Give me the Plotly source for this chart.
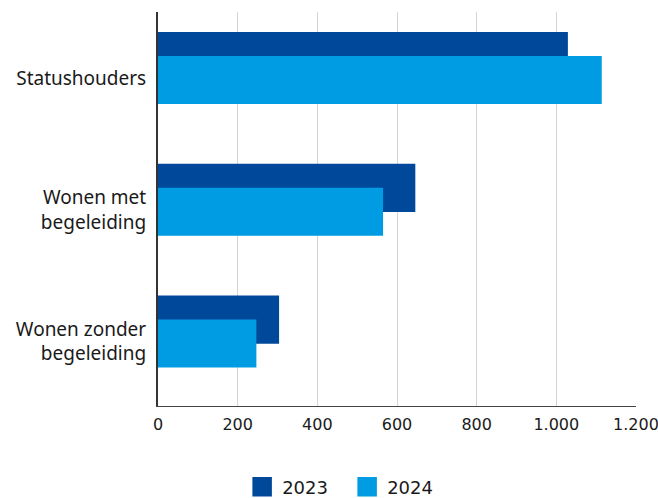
import plotly.graph_objects as go

categories = ["Statushouders", "Wonen met<br>begeleiding", "Wonen zonder<br>begeleiding"]
values_2023 = [1029, 646, 304]
values_2024 = [1114, 565, 247]
series_names = ["2023", "2024"]
colors = ["#00489A", "#009CE3"]
x_ticks = [0, 200, 400, 600, 800, 1000, 1200]

fig = go.Figure()
fig.add_trace(go.Bar(y=categories, x=values_2023, name=series_names[0], orientation="h",
                     marker=dict(color=colors[0], line=dict(width=0)),
                     width=0.365, offset=-0.348, showlegend=False))
fig.add_trace(go.Bar(y=categories, x=values_2024, name=series_names[1], orientation="h",
                     marker=dict(color=colors[1], line=dict(width=0)),
                     width=0.365, offset=-0.167, showlegend=False))
# legend entries with larger square swatches
for name, col in zip(series_names, colors):
    fig.add_trace(go.Scatter(x=[None], y=[None], mode="markers", name=name,
                             marker=dict(symbol="square", size=16, color=col,
                                         line=dict(width=3.5, color=col)),
                             showlegend=True))

fig.update_layout(
    width=658, height=498,
    margin=dict(l=158, r=22, t=12, b=92, autoexpand=False),
    plot_bgcolor="white", paper_bgcolor="white",
    barmode="overlay",
    separators=",.",
    font=dict(family="Noto Sans", color="#1a1a1a"),
    showlegend=True,
    legend=dict(orientation="h", xref="container", yref="container",
                x=0.368, xanchor="left", y=0.022, yanchor="middle",
                font=dict(size=18, family="DejaVu Sans", color="#1a1a1a"),
                traceorder="normal", itemwidth=30,
                entrywidth=60, entrywidthmode="pixels"),
    xaxis=dict(range=[0, 1200], tickvals=x_ticks, tickformat=",d",
               showgrid=True, gridcolor="#d4d4d4", gridwidth=1,
               showline=True, linecolor="#444444", linewidth=1,
               zeroline=False, ticks="", ticklabelstandoff=4,
               ticklabeloverflow="allow", automargin=False,
               tickfont=dict(size=16, family="DejaVu Sans", color="#1a1a1a")),
    yaxis=dict(categoryorder="array", categoryarray=categories,
               range=[2.49, -0.5], automargin=False,
               showline=True, linecolor="#333333", linewidth=2,
               showgrid=False, zeroline=False, ticks="", ticklabelstandoff=6,
               tickfont=dict(size=19, family="Noto Sans", color="#1a1a1a")),
)

post = ("document.body.style.margin='0';document.body.style.overflow='hidden';"
        "var gd=document.getElementById('{plot_id}');"
        "Plotly.relayout(gd,{width:658,height:498});")
fig.write_html("out.html", post_script=post,
               config={"responsive": False, "displayModeBar": False})
